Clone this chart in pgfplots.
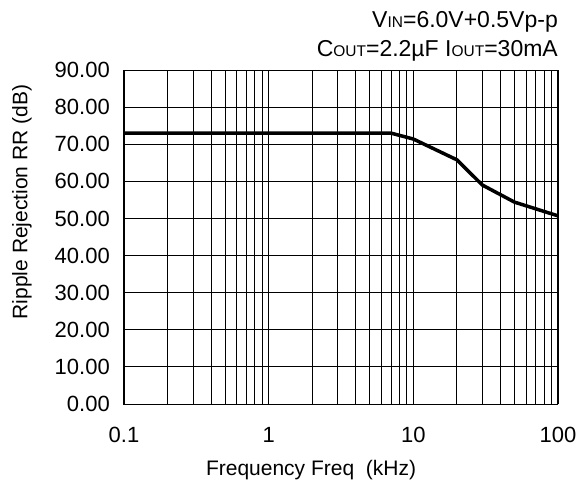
\documentclass[border=0pt]{standalone}
\usepackage{fontspec}
\setmainfont{Liberation Sans}
\usepackage{pgfplots}
\pgfplotsset{compat=1.18}
\begin{document}
\fontsize{21}{25}\selectfont
\begin{tikzpicture}
\useasboundingbox (0pt,0pt) rectangle (582pt,483pt);
\begin{axis}[
  at={(124pt,79pt)}, anchor=south west,
  scale only axis, width=434pt, height=334pt,
  xmode=log, xmin=0.1, xmax=100, ymin=0, ymax=90,
  xtick={0.1,1,10,100}, xticklabels={0.1,1,10,100},
  ytick={0,10,...,90},
  /pgf/number format/assume math mode=true,
  yticklabel style={/pgf/number format/fixed, /pgf/number format/fixed zerofill, /pgf/number format/precision=2, xshift=-7pt},
  xticklabel style={yshift=-16pt},
  major tick length=0pt, minor tick length=0pt,
  grid=both,
  major grid style={black, line width=0.8pt},
  minor grid style={black, line width=0.8pt},
  ymajorgrids=true, yminorgrids=false,
  minor y tick num=0,
  axis line style={black, line width=1pt},
  xlabel={Frequency Freq\ \ (kHz)},
  ylabel={Ripple Rejection RR (dB)},
  xlabel style={at={(axis description cs:0.431,-0.198)}, anchor=center},
  ylabel style={at={(axis description cs:-0.235,0.605)}, anchor=center},
  tick label style={font=\fontsize{22}{26}\selectfont},
  label style={font=\fontsize{21}{25}\selectfont},
]
\addplot[black, line width=3.5pt, line join=round] coordinates {
  (0.1,73.0) (7,73.0) (10,71.4) (20,65.8) (30,59.0) (50,54.4) (100,50.7)
};
\end{axis}
\node[anchor=base east, inner sep=0pt, font=\fontsize{23}{27}\selectfont] at (558pt,455.5pt) {V{\fontsize{15.5}{16}\selectfont IN}=6.0V+0.5Vp-p};
\node[anchor=base east, inner sep=0pt, font=\fontsize{23}{27}\selectfont] at (558pt,426.5pt) {C{\fontsize{15.5}{16}\selectfont OUT}=2.2µF I{\fontsize{15.5}{16}\selectfont OUT}=30mA};
\end{tikzpicture}
\end{document}
